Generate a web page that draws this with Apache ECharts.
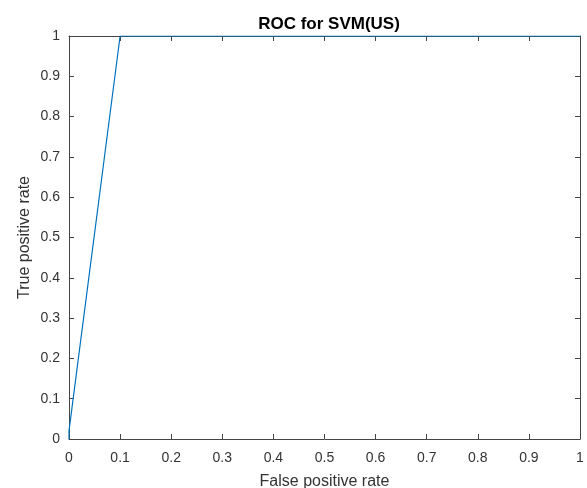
<!DOCTYPE html>
<html><head><meta charset="utf-8">
<script src="https://cdn.jsdelivr.net/npm/echarts@6/dist/echarts.min.js"></script>
<style>html,body{margin:0;padding:0;background:#fff}#c{width:587px;height:488px}</style>
</head><body><div id="c"></div>
<script>
var fpr = [0, 0, 0.1, 1];
var tpr = [0, 0.02, 1, 1];
var title = 'ROC for SVM(US)';
var xName = 'False positive rate';
var yName = 'True positive rate';
var axColor = '#444';
var font = 'Liberation Sans, Arial, Helvetica, sans-serif';
var chart = echarts.init(document.getElementById('c'));
function lbl(v){ return v === 0 ? '0' : (v === 1 ? '1' : String(Math.round(v*10)/10)); }
function axis(extra){
  return Object.assign({
    type: 'value', min: 0, max: 1, interval: 0.1,
    axisLine: {show: true, onZero: false, lineStyle: {color: axColor, width: 1}},
    axisTick: {show: true, inside: true, length: 5, lineStyle: {color: axColor}},
    splitLine: {show: false}
  }, extra);
}
chart.setOption({
  animation: false,
  title: {text: title, left: 324, top: 11, textAlign: 'center',
    textStyle: {fontFamily: font, fontSize: 17, fontWeight: 'bold', color: '#000'}},
  grid: {left: 69, right: 7, top: 36, bottom: 49, containLabel: false, outerBoundsMode: 'none'},
  xAxis: [
    axis({position: 'bottom', name: xName, nameLocation: 'middle', nameGap: 35, nameMoveOverlap: false,
      nameTextStyle: {fontFamily: font, fontSize: 16, color: '#333'},
      axisLabel: {fontFamily: font, fontSize: 14, color: '#333', margin: 12, formatter: lbl}}),
    axis({position: 'top', axisLabel: {show: false}})
  ],
  yAxis: [
    axis({position: 'left', name: yName, nameLocation: 'middle', nameGap: 36, nameMoveOverlap: false,
      nameTextStyle: {fontFamily: font, fontSize: 16, color: '#333'},
      axisLabel: {fontFamily: font, fontSize: 14, color: '#333', margin: 9, formatter: lbl}}),
    axis({position: 'right', axisLabel: {show: false}})
  ],
  series: [{
    type: 'line', data: fpr.map(function(x,i){return [x, tpr[i]];}),
    showSymbol: false, symbol: 'none',
    lineStyle: {color: '#0072BD', width: 1.2}, z: 5
  }]
});
</script></body></html>
